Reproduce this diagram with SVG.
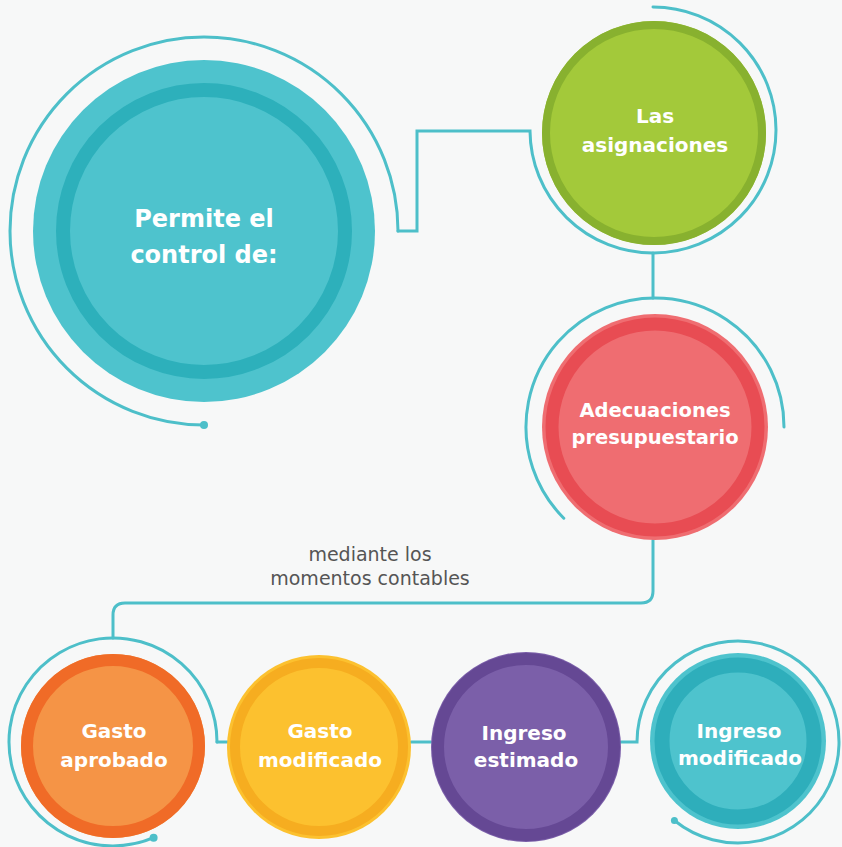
<svg xmlns="http://www.w3.org/2000/svg" width="842" height="847" viewBox="0 0 842 847">
<style>
.bg{fill:#f7f8f8}
.ln{fill:none;stroke:#4dbfc9;stroke-width:3;stroke-linecap:round}
.dot{fill:#4dbfc9}
.ring{fill:none}
.t{font-family:"DejaVu Sans","Liberation Sans",sans-serif;font-weight:bold;fill:#ffffff;text-anchor:middle}
.lbl{font-family:"DejaVu Sans","Liberation Sans",sans-serif;fill:#555555;text-anchor:middle;font-size:19px}
</style>
<rect class="bg" x="0" y="0" width="842" height="847"/>
<g id="connectors">
<path class="ln" d="M 398 231 A 194 194 0 1 0 204 425"/>
<circle class="dot" cx="204" cy="425" r="4"/>
<path class="ln" d="M 398 231 H 417 V 131 H 530 A 123 123 0 1 0 653 7"/>
<path class="ln" d="M 653 253 V 298"/>
<path class="ln" d="M 784 427 A 129 129 0 1 0 563.8 518.2"/>
<path class="ln" d="M 653 540 V 591 Q 653 603 641 603 H 125 Q 113 603 113 615 V 638"/>
<path class="ln" d="M 217 742 A 104 104 0 1 0 153.6 837.7"/>
<circle class="dot" cx="153.6" cy="837.7" r="4"/>
<path class="ln" d="M 217 742 H 228"/>
<path class="ln" d="M 411 742 H 431"/>
<path class="ln" d="M 621 742 H 637 A 101 101 0 1 1 674.4 820.5"/>
<circle class="dot" cx="674.4" cy="820.5" r="3.5"/>
</g>
<g id="node-permite">
<circle cx="204" cy="231" r="171" fill="#4ec3cd"/>
<circle class="ring" cx="204" cy="231" r="141" stroke="#2db0bb" stroke-width="14"/>
<text class="t" font-size="24" x="204" y="227">Permite el</text>
<text class="t" font-size="24" x="204" y="263">control de:</text>
</g>
<g id="node-asignaciones">
<circle cx="654" cy="133" r="112" fill="#a3c93a"/>
<circle class="ring" cx="654" cy="133" r="108" stroke="#88b12f" stroke-width="8"/>
<text class="t" font-size="20" x="655" y="123">Las</text>
<text class="t" font-size="20" x="655" y="152">asignaciones</text>
</g>
<g id="node-adecuaciones">
<circle cx="655" cy="427" r="113" fill="#ef6d71"/>
<circle class="ring" cx="655" cy="427" r="103" stroke="#e84c53" stroke-width="13"/>
<text class="t" font-size="19.5" x="655" y="417">Adecuaciones</text>
<text class="t" font-size="19.5" x="655" y="444">presupuestario</text>
</g>
<g id="node-gasto-aprobado">
<circle cx="113" cy="746" r="92" fill="#f59446"/>
<circle class="ring" cx="113" cy="746" r="86" stroke="#f06b27" stroke-width="12"/>
<text class="t" font-size="20" x="114" y="738">Gasto</text>
<text class="t" font-size="20" x="114" y="767">aprobado</text>
</g>
<g id="node-gasto-modificado">
<circle cx="319" cy="747" r="92" fill="#fcc12f"/>
<circle class="ring" cx="319" cy="747" r="84" stroke="#f6ad20" stroke-width="10"/>
<text class="t" font-size="20" x="320" y="738">Gasto</text>
<text class="t" font-size="20" x="320" y="767">modificado</text>
</g>
<g id="node-ingreso-estimado">
<circle cx="526" cy="747" r="95" fill="#7b5fa9"/>
<circle class="ring" cx="526" cy="747" r="88" stroke="#654894" stroke-width="12"/>
<text class="t" font-size="20" x="524" y="740">Ingreso</text>
<text class="t" font-size="20" x="526" y="767">estimado</text>
</g>
<g id="node-ingreso-modificado">
<circle cx="738" cy="741" r="88" fill="#4ec3cd"/>
<circle class="ring" cx="738" cy="741" r="76" stroke="#2eaebb" stroke-width="15"/>
<text class="t" font-size="20" x="739" y="738">Ingreso</text>
<text class="t" font-size="20" x="740" y="765">modificado</text>
</g>
<g id="label">
<text class="lbl" x="370" y="561">mediante los</text>
<text class="lbl" x="370" y="585">momentos contables</text>
</g>
</svg>
